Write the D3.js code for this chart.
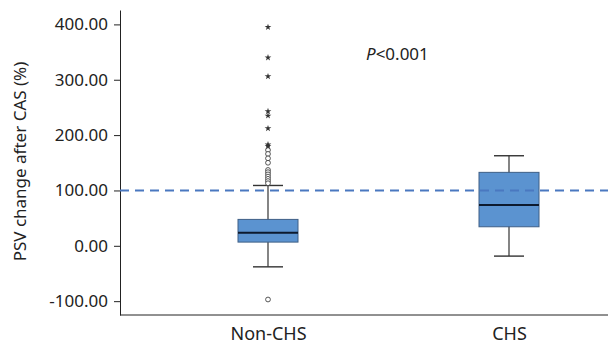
<!DOCTYPE html>
<html>
<head>
<meta charset="utf-8">
<script src="https://cdn.jsdelivr.net/npm/d3@7"></script>
<style>
  body { margin: 0; background: #fff; }
  svg text { font-family: "Noto Sans", "Open Sans", sans-serif; }
</style>
</head>
<body>
<svg id="chart" width="608" height="346"></svg>
<script>
// groups and box statistics
const groups = ["Non-CHS", "CHS"];
const q1 = [6.7, 34.4];
const median = [23.5, 73.6];
const q3 = [47.7, 132.7];
const whiskerLow = [-38, -18.6];
const whiskerHigh = [109, 162.7];

// Non-CHS outliers (circles) and extremes (stars)
const outliers = [173, 166, 158, 150, 137, 133, 129, 125, 121, 117, 113, -97];
const extremes = [395, 340, 306, 243, 235, 212, 183, 180];

const yTicks = [-100, 0, 100, 200, 300, 400];
const refLine = 100;

const width = 608, height = 346;
const margin = { top: 10, right: 0, bottom: 31, left: 120 };

const svg = d3.select("#chart");

const y = d3.scaleLinear()
  .domain([-125, 426])
  .range([height - margin.bottom, margin.top]);

const x = d3.scalePoint()
  .domain(groups)
  .range([268, 509]);

const boxW = 60, capW = 30;
const fmt = d => d3.format(".2f")(d).replace("\u2212", "-");

// axes
svg.append("g")
  .attr("transform", `translate(${margin.left},0)`)
  .call(d3.axisLeft(y).tickValues(yTicks).tickFormat(fmt).tickSize(6).tickSizeOuter(0))
  .call(g => g.select(".domain").attr("stroke", "#222"))
  .call(g => g.selectAll(".tick line").attr("stroke", "#222"))
  .call(g => g.selectAll(".tick text").attr("font-size", 17).attr("fill", "#222").attr("x", -12));

svg.append("g")
  .attr("transform", `translate(0,${height - margin.bottom})`)
  .call(d3.axisBottom(x).tickSize(0).tickSizeOuter(0))
  .call(g => g.select(".domain").attr("d", `M${margin.left},0H${width}`).attr("stroke", "#222"))
  .call(g => g.selectAll(".tick text").attr("font-size", 18).attr("fill", "#222").attr("dy", null).attr("y", 25));

// y title
svg.append("text")
  .attr("transform", `translate(26,${(margin.top + height - margin.bottom) / 2 - 1}) rotate(-90)`)
  .attr("text-anchor", "middle")
  .attr("font-size", 17)
  .attr("fill", "#222")
  .text("PSV change after CAS (%)");

// boxes
const box = svg.append("g").selectAll("g")
  .data(groups)
  .join("g");

box.append("line")
  .attr("x1", d => x(d)).attr("x2", d => x(d))
  .attr("y1", (d, i) => y(whiskerLow[i]))
  .attr("y2", (d, i) => y(whiskerHigh[i]))
  .attr("stroke", "#333").attr("stroke-width", 1.2);

box.selectAll(".cap")
  .data((d, i) => [whiskerLow[i], whiskerHigh[i]].map(v => ({ g: d, v })))
  .join("line")
  .attr("class", "cap")
  .attr("x1", d => x(d.g) - capW / 2).attr("x2", d => x(d.g) + capW / 2)
  .attr("y1", d => y(d.v)).attr("y2", d => y(d.v))
  .attr("stroke", "#333").attr("stroke-width", 1.4);

box.append("rect")
  .attr("x", d => x(d) - boxW / 2)
  .attr("width", boxW)
  .attr("y", (d, i) => y(q3[i]))
  .attr("height", (d, i) => y(q1[i]) - y(q3[i]))
  .attr("fill", "#5b93d0")
  .attr("stroke", "#3f5f86")
  .attr("stroke-width", 1);

box.append("line")
  .attr("x1", d => x(d) - boxW / 2).attr("x2", d => x(d) + boxW / 2)
  .attr("y1", (d, i) => y(median[i])).attr("y2", (d, i) => y(median[i]))
  .attr("stroke", "#0d1a2e").attr("stroke-width", 2);

// reference line
svg.append("line")
  .attr("x1", margin.left).attr("x2", width)
  .attr("y1", y(refLine)).attr("y2", y(refLine))
  .attr("stroke", "#4a78c0")
  .attr("stroke-width", 2)
  .attr("stroke-dasharray", "9,6");

// outliers
svg.append("g").selectAll("circle")
  .data(outliers)
  .join("circle")
  .attr("cx", x("Non-CHS"))
  .attr("cy", d => y(d))
  .attr("r", 2.4)
  .attr("fill", "#fff")
  .attr("stroke", "#444")
  .attr("stroke-width", 0.9);

svg.append("g").selectAll("path")
  .data(extremes)
  .join("path")
  .attr("transform", d => `translate(${x("Non-CHS")},${y(d)})`)
  .attr("d", d3.symbol(d3.symbolStar, 14))
  .attr("fill", "#333");

// p value
const p = svg.append("text")
  .attr("x", 366).attr("y", 60)
  .attr("font-size", 17)
  .attr("fill", "#222");
p.append("tspan").attr("font-style", "italic").text("P");
p.append("tspan").text("<0.001");
</script>
</body>
</html>
